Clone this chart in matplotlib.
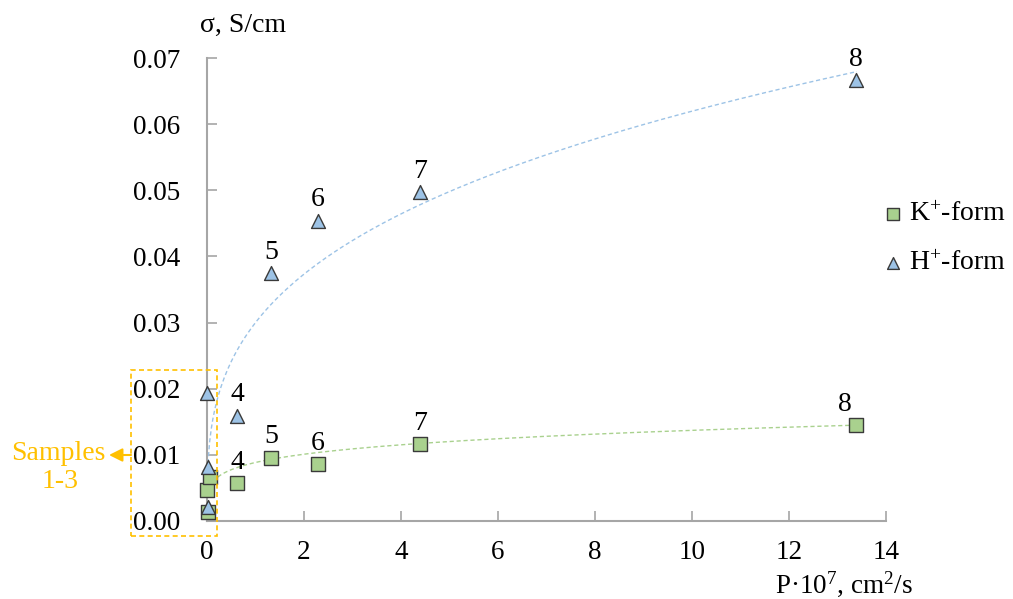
import numpy as np
import matplotlib
matplotlib.use("Agg")
import matplotlib.pyplot as plt
from matplotlib.patches import Rectangle

plt.rcParams['font.family'] = ['Liberation Serif', 'DejaVu Serif']
plt.rcParams['mathtext.fontset'] = 'custom'
plt.rcParams['mathtext.rm'] = 'Liberation Serif'
plt.rcParams['mathtext.it'] = 'Liberation Serif:italic'

# Data
k_x = [0.02, 0.01, 0.06, 0.62, 1.32, 2.29, 4.39, 13.38]
k_y = [0.0014, 0.0047, 0.0066, 0.0057, 0.0096, 0.0086, 0.0116, 0.0145]
h_x = [0.02, 0.02, 0.0, 0.62, 1.32, 2.29, 4.39, 13.38]
h_y = [0.0021, 0.0081, 0.0194, 0.0159, 0.0375, 0.0454, 0.0497, 0.0666]
labels = ["", "", "", "4", "5", "6", "7", "8"]

# power trendlines y = a * x^b (estimated)
k_a, k_b = 0.00885, 0.19
h_a, h_b = 0.0300, 0.315
k_trend_start, h_trend_start, trend_end = 0.05, 0.02, 13.4

x_ticks = [0, 2, 4, 6, 8, 10, 12, 14]
y_ticks = [0.00, 0.01, 0.02, 0.03, 0.04, 0.05, 0.06, 0.07]

green_face = '#A9D18E'
blue_face = '#9DC3E6'
edge = '#3A3A3A'
gold = '#FFC000'
spine_c = '#A6A6A6'
FS = 20

fig = plt.figure(figsize=(10.13, 5.99), dpi=100)
ax = fig.add_axes([207/1013, 1-521/599, (886-207)/1013, (521-58)/599])

xh = np.linspace(h_trend_start, trend_end, 400)
xk = np.linspace(k_trend_start, trend_end, 400)
ax.plot(xh, h_a * xh ** h_b, linestyle=(0, (3, 2)), color='#9DC3E6', lw=1.0, zorder=2)
ax.plot(xk, k_a * xk ** k_b, linestyle=(0, (3, 2)), color='#A9D18E', lw=1.0, zorder=2)

ax.scatter(k_x, k_y, marker='s', s=90, facecolor=green_face, edgecolor=edge,
           linewidth=1.0, zorder=3, label='K$^{+}$-form', clip_on=False)
ax.scatter(h_x, h_y, marker='^', s=100, facecolor=blue_face, edgecolor=edge,
           linewidth=1.0, zorder=4, label='H$^{+}$-form', clip_on=False)

for x, y, t in zip(k_x, k_y, labels):
    if t:
        dx = -8 if t == "8" else 0
        ax.annotate(t, (x, y), xytext=(dx, 6), textcoords='offset points',
                    ha='center', va='bottom', fontsize=FS)
for x, y, t in zip(h_x, h_y, labels):
    if t:
        ax.annotate(t, (x, y), xytext=(0, 6), textcoords='offset points',
                    ha='center', va='bottom', fontsize=FS)

ax.set_xlim(0, 14)
ax.set_ylim(0, 0.07)
ax.set_xticks(x_ticks)
ax.set_yticks(y_ticks)
ax.set_xticklabels([str(v) for v in x_ticks])
ax.set_yticklabels([f"{v:.2f}" for v in y_ticks])
ax.tick_params(direction='in', length=7, width=1.2, color=spine_c, labelsize=19.5)
ax.tick_params(axis='x', pad=14)
ax.tick_params(axis='y', pad=19)
for s in ['top', 'right']:
    ax.spines[s].set_visible(False)
for s in ['left', 'bottom']:
    ax.spines[s].set_color(spine_c)
    ax.spines[s].set_linewidth(1.5)

fig.text(200/1013, 1-25/599, 'σ, S/cm', fontsize=FS, ha='left', va='center')
fig.text(775/1013, 1-584/599, 'P·10$^{7}$, cm$^{2}$/s', fontsize=19.5, ha='left', va='center')

leg = ax.legend(loc='upper left', bbox_to_anchor=(876/1013, 1-202/599),
                bbox_transform=fig.transFigure, frameon=False, fontsize=FS,
                handletextpad=0.0, handlelength=1.2, labelspacing=0.85,
                markerscale=0.85, borderaxespad=0, borderpad=0)

# Samples 1-3 annotation
rect = Rectangle((131/1013, 1-536/599), (217-131)/1013, (536-370)/599,
                 transform=fig.transFigure, fill=False, edgecolor=gold,
                 linestyle=(0, (3, 2)), lw=1.2, clip_on=False)
fig.add_artist(rect)
ax.annotate('', xy=(109/1013, 1-455/599), xytext=(131/1013, 1-455/599),
            xycoords='figure fraction', textcoords='figure fraction',
            arrowprops=dict(arrowstyle='-|>,head_length=0.8,head_width=0.4',
                            color=gold, lw=1.5, shrinkA=0, shrinkB=0))
fig.text(58/1013, 1-454/599, 'Samples', color=gold, fontsize=FS, ha='center', va='center')
fig.text(60/1013, 1-481/599, '1-3', color=gold, fontsize=FS, ha='center', va='center')

fig.savefig('out.png', dpi=100)
